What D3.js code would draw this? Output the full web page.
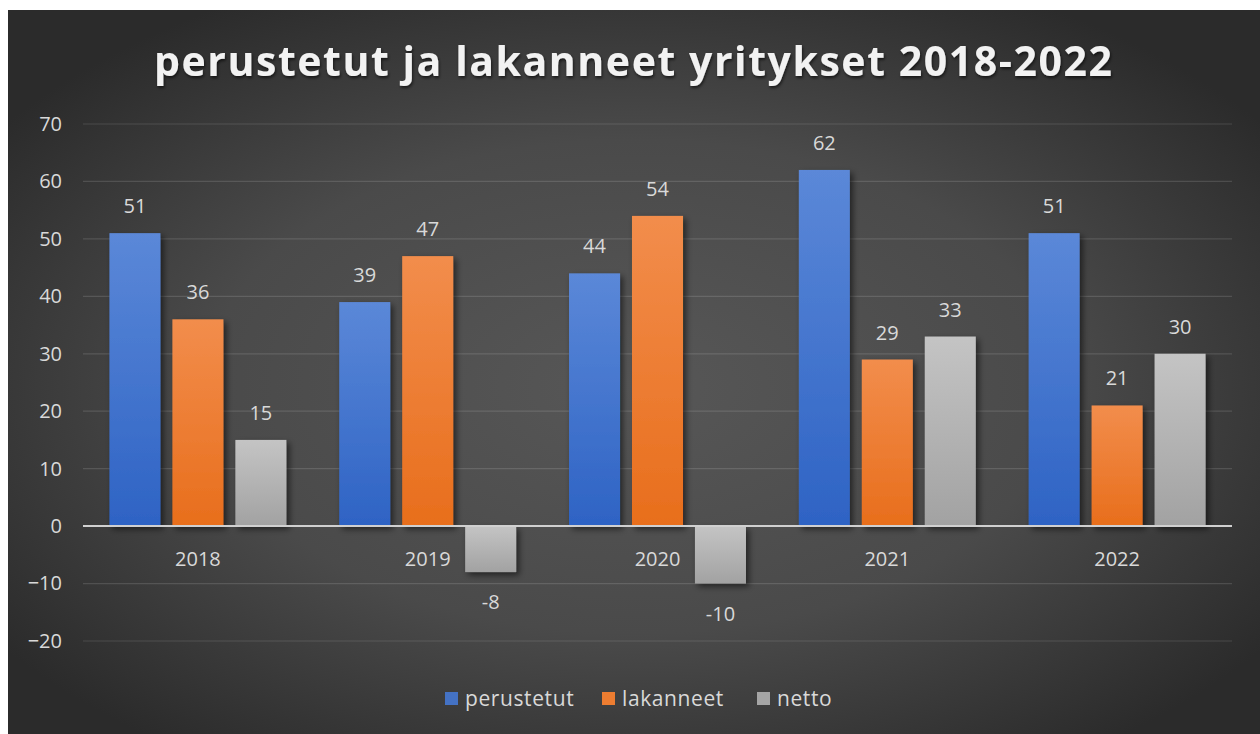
<!DOCTYPE html>
<html>
<head>
<meta charset="utf-8">
<script src="https://cdn.jsdelivr.net/npm/d3@7"></script>
<style>
  html, body { margin: 0; padding: 0; background: #fff; }
  svg { display: block; font-family: "Open Sans", sans-serif; }
</style>
</head>
<body>
<svg id="chart" width="1260" height="734"></svg>
<script>
// data
const years = ["2018", "2019", "2020", "2021", "2022"];
const seriesNames = ["perustetut", "lakanneet", "netto"];
const perustetut = [51, 39, 44, 62, 51];
const lakanneet = [36, 47, 54, 29, 21];
const netto = [15, -8, -10, 33, 30];
const yTicks = [-20, -10, 0, 10, 20, 30, 40, 50, 60, 70];
const title = "perustetut ja lakanneet yritykset 2018-2022";

const rows = years.map((y, i) => ({ year: y, perustetut: perustetut[i], lakanneet: lakanneet[i], netto: netto[i] }));

const svg = d3.select("#chart");
const width = 1260, height = 734;
const plot = { left: 83, right: 1232, top: 124, bottom: 641 };

// gradient fills + shadow
const defs = svg.append("defs");
const bg = defs.append("radialGradient").attr("id", "bg")
  .attr("cx", "50%").attr("cy", "52%").attr("r", "62%");
bg.append("stop").attr("offset", "0%").attr("stop-color", "#575757");
bg.append("stop").attr("offset", "55%").attr("stop-color", "#4a4a4a");
bg.append("stop").attr("offset", "100%").attr("stop-color", "#2b2b2b");

const barColors = {
  perustetut: ["#5b88d8", "#2e63c4"],
  lakanneet: ["#f28d4c", "#e86e1c"],
  netto: ["#c4c4c4", "#a2a2a2"]
};
const legendColors = { perustetut: "#4472c4", lakanneet: "#ed7d31", netto: "#a5a5a5" };

seriesNames.forEach(k => {
  const g = defs.append("linearGradient").attr("id", "g-" + k)
    .attr("x1", 0).attr("y1", 0).attr("x2", 0).attr("y2", 1);
  g.append("stop").attr("offset", "0%").attr("stop-color", barColors[k][0]);
  g.append("stop").attr("offset", "100%").attr("stop-color", barColors[k][1]);
});

const shadow = defs.append("filter").attr("id", "shadow")
  .attr("x", "-30%").attr("y", "-10%").attr("width", "160%").attr("height", "130%");
shadow.append("feDropShadow").attr("dx", 3).attr("dy", 3).attr("stdDeviation", 3)
  .attr("flood-color", "#000").attr("flood-opacity", 0.55);

const tshadow = defs.append("filter").attr("id", "tshadow");
tshadow.append("feDropShadow").attr("dx", 1).attr("dy", 2).attr("stdDeviation", 1.5)
  .attr("flood-color", "#000").attr("flood-opacity", 0.6);

// chart background (white frame at top/left like the screenshot)
svg.append("rect").attr("x", 8).attr("y", 10).attr("width", width - 8).attr("height", height - 10)
  .attr("fill", "url(#bg)");

// scales
const x0 = d3.scaleBand().domain(years).range([plot.left, plot.right])
  .paddingInner(0.23).paddingOuter(0.115);
const x1 = d3.scaleBand().domain(seriesNames).range([0, x0.bandwidth()])
  .paddingInner(0.19).paddingOuter(0);
const y = d3.scaleLinear().domain([-20, 70]).range([plot.bottom, plot.top]);

// grid
svg.append("g").selectAll("line").data(yTicks.filter(d => d !== 0)).join("line")
  .attr("x1", plot.left).attr("x2", plot.right)
  .attr("y1", d => y(d)).attr("y2", d => y(d))
  .attr("stroke", "#ffffff").attr("stroke-opacity", 0.13).attr("stroke-width", 1.2);

// y axis labels
const yAxis = svg.append("g").attr("transform", `translate(${plot.left - 21},0)`)
  .call(d3.axisLeft(y).tickValues(yTicks).tickSize(0).tickPadding(0));
yAxis.select(".domain").remove();
yAxis.selectAll("text").attr("fill", "#d9d9d9").attr("font-size", 20)
  .attr("font-family", "Open Sans, sans-serif");

// bars
const groups = svg.append("g").selectAll("g").data(rows).join("g")
  .attr("transform", d => `translate(${x0(d.year)},0)`);

groups.selectAll("rect").data(d => seriesNames.map(k => ({ key: k, value: d[k] }))).join("rect")
  .attr("x", d => x1(d.key))
  .attr("width", x1.bandwidth())
  .attr("y", d => y(Math.max(0, d.value)))
  .attr("height", d => Math.abs(y(d.value) - y(0)))
  .attr("fill", d => "url(#g-" + d.key + ")")
  .attr("filter", "url(#shadow)");

// data labels
groups.selectAll("text.val").data(d => seriesNames.map(k => ({ key: k, value: d[k] }))).join("text")
  .attr("class", "val")
  .attr("x", d => x1(d.key) + x1.bandwidth() / 2)
  .attr("y", d => d.value >= 0 ? y(d.value) - 20 : y(d.value) + 37)
  .attr("text-anchor", "middle")
  .attr("fill", "#d9d9d9").attr("font-size", 20)
  .text(d => d.value);

// zero line
svg.append("line")
  .attr("x1", plot.left).attr("x2", plot.right)
  .attr("y1", y(0)).attr("y2", y(0))
  .attr("stroke", "#d0d0d0").attr("stroke-width", 2);

// category labels
const xAxis = svg.append("g").attr("transform", `translate(0,${y(0) + 26})`)
  .call(d3.axisBottom(x0).tickSize(0).tickPadding(0));
xAxis.select(".domain").remove();
xAxis.selectAll("text").attr("fill", "#d9d9d9").attr("font-size", 20)
  .attr("font-family", "Open Sans, sans-serif").attr("dy", "0.71em");

// title
svg.append("text")
  .attr("x", 633).attr("y", 76)
  .attr("text-anchor", "middle")
  .attr("font-size", 41).attr("font-weight", "bold")
  .attr("fill", "#f2f2f2")
  .attr("textLength", 958).attr("lengthAdjust", "spacing")
  .attr("filter", "url(#tshadow)")
  .text(title);

// legend
const legendPos = [445, 602, 757];
const legend = svg.append("g");
seriesNames.forEach((k, i) => {
  const g = legend.append("g").attr("transform", `translate(${legendPos[i]},692)`);
  g.append("rect").attr("width", 13).attr("height", 13).attr("fill", legendColors[k]);
  g.append("text").attr("x", 20).attr("y", 14).attr("fill", "#d9d9d9")
    .attr("font-size", 21).attr("letter-spacing", 0.6).text(k);
});
</script>
</body>
</html>
